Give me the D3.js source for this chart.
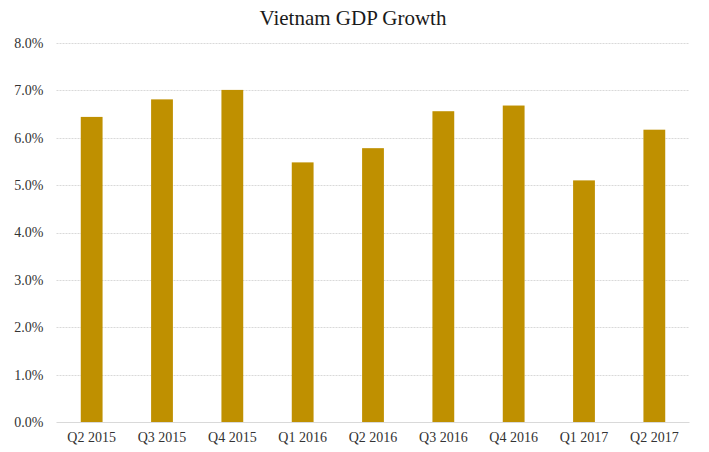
<!DOCTYPE html>
<html><head><meta charset="utf-8">
<script src="https://cdn.jsdelivr.net/npm/d3@7"></script>
<style>body{margin:0;background:#fff}svg{display:block}</style>
</head><body><svg id="c" width="709" height="452"></svg>
<script>
const categories = ["Q2 2015","Q3 2015","Q4 2015","Q1 2016","Q2 2016","Q3 2016","Q4 2016","Q1 2017","Q2 2017"];
const values = [6.44, 6.81, 7.01, 5.48, 5.78, 6.56, 6.68, 5.10, 6.17];
const yTicks = [0,1,2,3,4,5,6,7,8];
const title = "Vietnam GDP Growth";

const svg = d3.select("#c");
const m = {l:56.5, r:19.5, t:43, b:30};
const W = 709, H = 452;
const x = d3.scaleBand().domain(categories).range([m.l, W - m.r]).paddingInner(0.69).paddingOuter(0.345);
const y = d3.scaleLinear().domain([0, 8]).range([H - m.b, m.t]);
const font = "'Liberation Serif', 'DejaVu Serif', serif";

svg.append("g").selectAll("line").data(yTicks.filter(d => d > 0)).join("line")
  .attr("x1", m.l).attr("x2", W - m.r)
  .attr("y1", d => Math.round(y(d)) + 0.5).attr("y2", d => Math.round(y(d)) + 0.5)
  .attr("stroke", "#d9d9d9").attr("stroke-width", 1).attr("stroke-dasharray", "2,1");

svg.append("g").selectAll("rect").data(values).join("rect")
  .attr("x", (d, i) => x(categories[i])).attr("width", x.bandwidth())
  .attr("y", d => y(d)).attr("height", d => y(0) - y(d))
  .attr("fill", "#BF9000");

svg.append("line").attr("x1", m.l).attr("x2", W - m.r)
  .attr("y1", Math.round(y(0)) + 0.5).attr("y2", Math.round(y(0)) + 0.5)
  .attr("stroke", "#d9d9d9").attr("stroke-width", 1);

const yAxis = d3.axisLeft(y).tickValues(yTicks).tickFormat(d => d3.format(".1f")(d) + "%").tickSize(0).tickPadding(13);
const ga = svg.append("g").attr("transform", `translate(${m.l},0)`).call(yAxis);
ga.select(".domain").remove();
ga.selectAll("text").attr("font-family", font).attr("font-size", 14).attr("fill", "#333");

const xAxis = d3.axisBottom(x).tickSize(0).tickPadding(10);
const gx = svg.append("g").attr("transform", `translate(0,${y(0)})`).call(xAxis);
gx.select(".domain").remove();
gx.selectAll("text").attr("font-family", font).attr("font-size", 14).attr("fill", "#333");

svg.append("text").attr("x", 353).attr("y", 25).attr("text-anchor", "middle")
  .attr("font-family", font).attr("font-size", 21).attr("fill", "#1a1a1a").text(title);
</script></body></html>
